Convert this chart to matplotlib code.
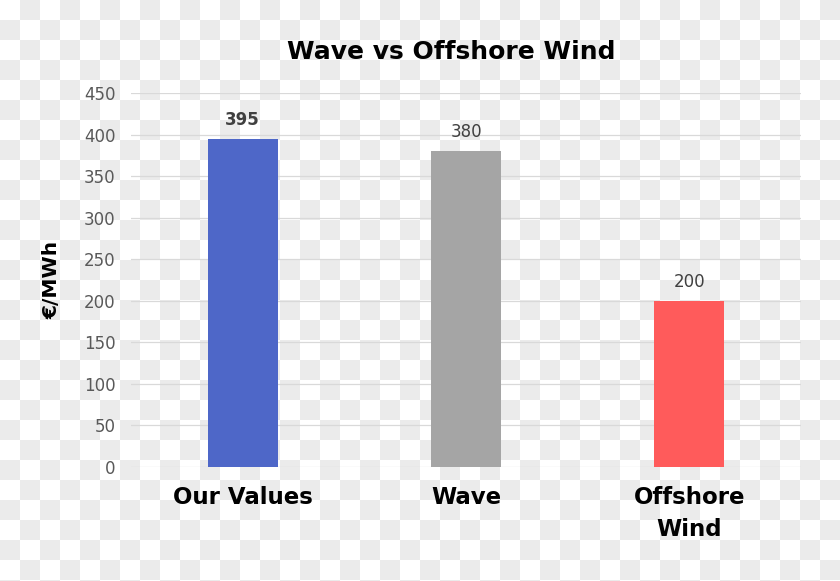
import numpy as np
import matplotlib
matplotlib.use("Agg")
import matplotlib.pyplot as plt

categories = ["Our Values", "Wave", "Offshore\nWind"]
values = [395, 380, 200]
bar_colors = ["#4e67c8", "#a5a5a5", "#ff5b5b"]
label_weights = ["bold", "normal", "normal"]
yticks = [0, 50, 100, 150, 200, 250, 300, 350, 400, 450]

W, H = 840, 581
fig = plt.figure(figsize=(W / 100, H / 100), dpi=100)

# checkered background (20px squares)
bg = fig.add_axes([0, 0, 1, 1], zorder=-10)
nx, ny = W // 20 + 1, H // 20 + 1
checker = np.indices((ny, nx)).sum(axis=0) % 2
bg.imshow(checker, cmap=matplotlib.colors.ListedColormap(["#ffffff", "#ebebeb"]),
          interpolation="nearest", extent=(0, nx * 20, ny * 20, 0), aspect="auto")
bg.set_xlim(0, W)
bg.set_ylim(H, 0)
bg.axis("off")

ax = fig.add_axes([131 / W, 1 - 467 / H, 670 / W, 374 / H])
ax.patch.set_alpha(0)

x = np.arange(len(categories))
bars = ax.bar(x, values, width=0.313, color=bar_colors, zorder=3)
ax.set_xlim(-0.5, 2.5)
ax.set_ylim(0, 450)
ax.set_yticks(yticks)
ax.grid(axis="y", color="#d9d9d9", linewidth=0.9, zorder=0)
ax.set_axisbelow(True)
for s in ax.spines.values():
    s.set_visible(False)
ax.tick_params(axis="y", length=0, pad=11, labelsize=12, labelcolor="#595959")
ax.tick_params(axis="x", length=0, pad=13.5)
ax.set_xticks(x)
ax.set_xticklabels(categories, fontsize=16.5, fontweight="bold", color="black",
                   linespacing=1.5)

for b, v, w in zip(bars, values, label_weights):
    ax.annotate(str(v), (b.get_x() + b.get_width() / 2, v), xytext=(0, 7),
                textcoords="offset points", ha="center", va="bottom",
                fontsize=12, color="#404040", fontweight=w)

ax.set_ylabel("€/MWh", fontsize=14.5, fontweight="bold")
ax.yaxis.set_label_coords(-70 / 670, 0.5)

fig.text(451 / W, 1 - 52 / H, "Wave vs Offshore Wind", ha="center", va="center",
         fontsize=18, fontweight="bold")

fig.savefig("out.png", dpi=100)
